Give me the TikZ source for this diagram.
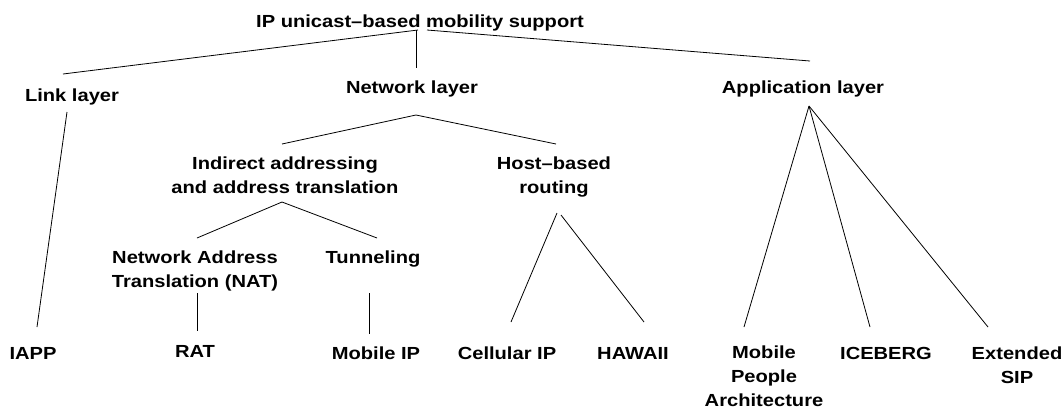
\documentclass[tikz,border=0pt]{standalone}
\usepackage{fontspec}
\newfontfamily\lblfont{Liberation Sans}[FakeStretch=1.15]
\begin{document}
\begin{tikzpicture}[x=1bp,y=-1bp,
  lbl/.style={inner sep=0pt, outer sep=0pt, anchor=base,
    font=\lblfont\bfseries\fontsize{17.5bp}{24bp}\selectfont},
  lblm/.style={lbl, anchor=north, align=center},
  link/.style={line width=0.8bp, draw=black}]
\useasboundingbox (0,0) rectangle (1064,408);

% level 0
\node[lbl] (root) at (420,27) {IP unicast–based mobility support};

% level 1
\node[lbl] (ll) at (72,101) {Link layer};
\node[lbl] (nl) at (412,93) {Network layer};
\node[lbl] (al) at (803,93) {Application layer};

% level 2
\node[lblm] (ind) at (285,156.6) {Indirect addressing\\and address translation};
\node[lblm] (hbr) at (554,156.6) {Host–based\\routing};

% level 3
\node[lblm] (nat) at (195,250.6) {Network Address\\Translation (NAT)};
\node[lbl] (tun) at (373,263) {Tunneling};

% leaves
\node[lbl] (iapp) at (33,359) {IAPP};
\node[lbl] (rat) at (195,357) {RAT};
\node[lbl] (mip) at (376,359) {Mobile IP};
\node[lbl] (cip) at (507,359) {Cellular IP};
\node[lbl] (haw) at (633,359) {HAWAII};
\node[lblm] (mpa) at (764,345.4) {Mobile\\People\\Architecture};
\node[lbl] (ice) at (886,359) {ICEBERG};
\node[lblm] (sip) at (1017,346.6) {Extended\\SIP};

% connectors
\draw[link] ([shift={(-2,3)}]root.base) -- ([shift={(-9,-27)}]ll.base);
\draw[link] ([shift={(-4,3)}]root.base) -- ([shift={(4,-25)}]nl.base);
\draw[link] ([shift={(7,3)}]root.base) -- ([shift={(7,-32)}]al.base);

\draw[link] ([shift={(-5,11)}]ll.base) -- ([shift={(4,-32)}]iapp.base);

\draw[link] ([shift={(-3,-12.6)}]ind.north) -- ([shift={(4,22)}]nl.base)
            -- ([shift={(2,-12.6)}]hbr.north);

\draw[link] ([shift={(2,-12.6)}]nat.north) -- ([shift={(-3,45.4)}]ind.north)
            -- ([shift={(4,-25)}]tun.base);

\draw[link] ([shift={(2,42.4)}]nat.north) -- ([shift={(2,-26)}]rat.base);
\draw[link] ([shift={(-4,30)}]tun.base) -- ([shift={(-7,-25)}]mip.base);

\draw[link] ([shift={(3,56.4)}]hbr.north) -- ([shift={(4,-37)}]cip.base);
\draw[link] ([shift={(7,58.4)}]hbr.north) -- ([shift={(11,-37)}]haw.base);

\draw[link] ([shift={(6,13)}]al.base) -- ([shift={(-20,-18.4)}]mpa.north);
\draw[link] ([shift={(6,13)}]al.base) -- ([shift={(-16,-32)}]ice.base);
\draw[link] ([shift={(6,13)}]al.base) -- ([shift={(-29,-19.6)}]sip.north);
\end{tikzpicture}
\end{document}
